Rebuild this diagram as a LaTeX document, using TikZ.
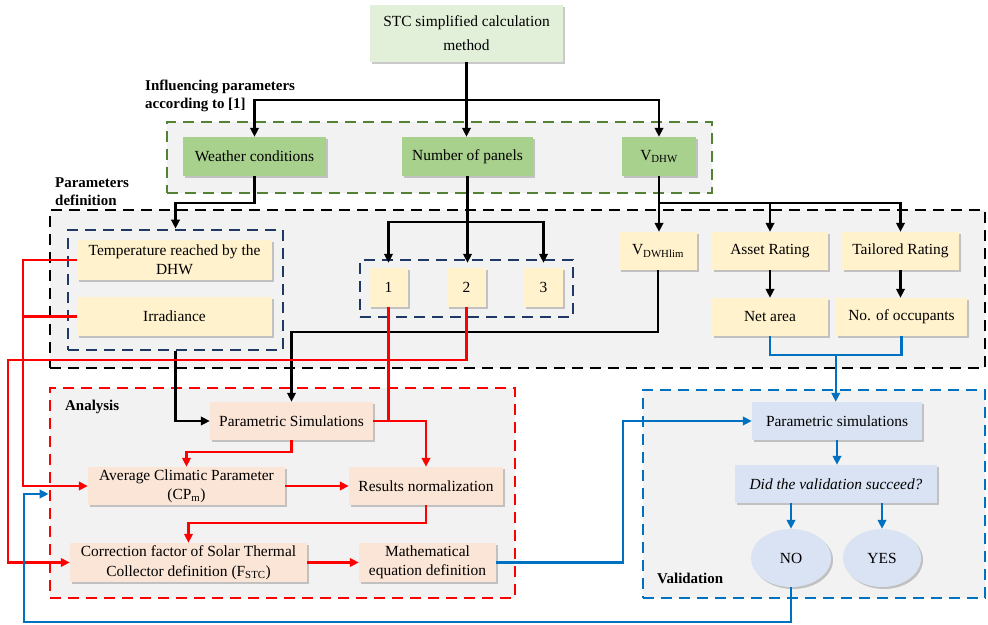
\documentclass[tikz,border=0pt]{standalone}
\usepackage{fontspec}
\setmainfont{Liberation Serif}
\usetikzlibrary{shapes.geometric,shadows,arrows.meta,calc}
\definecolor{topgreen}{HTML}{E2F0D9}
\definecolor{midgreen}{HTML}{A9D18E}
\definecolor{yel}{HTML}{FFF2CC}
\definecolor{peach}{HTML}{FBE5D6}
\definecolor{lblue}{HTML}{DAE3F3}
\definecolor{grpgray}{HTML}{F2F2F2}
\definecolor{dgreen}{HTML}{548235}
\definecolor{navy}{HTML}{1F3864}
\definecolor{cblue}{HTML}{0070C0}
\definecolor{cred}{HTML}{FF0000}
\tikzset{
  box/.style={draw=none, align=center, inner sep=2bp,
    font=\fontsize{15.5}{19.5}\selectfont,
    drop shadow={shadow xshift=2bp, shadow yshift=-2bp, opacity=.35, fill=black!60}},
  gbox/.style={box, fill=midgreen},
  ybox/.style={box, fill=yel},
  pbox/.style={box, fill=peach},
  bbox/.style={box, fill=lblue},
  tbox/.style={box, fill=topgreen},
  grp/.style={rectangle, fill=grpgray, line width=2.8bp, dash pattern=on 11bp off 7bp, inner sep=0},
  glabel/.style={font=\bfseries\fontsize{15}{18}\selectfont, align=left, inner sep=0, anchor=north west},
  conn/.style={line width=2.3bp, -{Triangle[length=9bp,width=8.5bp]}},
  plain/.style={line width=2.3bp},
}
\begin{document}
\begin{tikzpicture}[x=1bp,y=-1bp]
\useasboundingbox (0,0) rectangle (988,625);
% groups
\node[grp, draw=dgreen, minimum width=545bp, minimum height=71bp] (ggreen) at (439.5,157.5) {};
\node[grp, draw=black, minimum width=935bp, minimum height=158bp] (gblack) at (517.5,289) {};
\node[grp, draw=navy, minimum width=215bp, minimum height=120bp] (gnavy1) at (175.5,290) {};
\node[grp, draw=navy, minimum width=213bp, minimum height=57bp] (gnavy2) at (466.5,288.5) {};
\node[grp, draw=cred, minimum width=465bp, minimum height=210bp] (gred) at (282.5,493) {};
\node[grp, draw=cblue, minimum width=342bp, minimum height=208bp] (gblue) at (814,494) {};
% group labels
\node[glabel] (lab1) at (145,80) {Influencing parameters\\according to [1]};
\node[glabel] (lab2) at (55,178) {Parameters\\definition};
\node[glabel] (lab3) at (65,400) {Analysis};
\node[glabel] (lab4) at (657,573) {Validation};
% nodes
\node[tbox, minimum width=193bp, minimum height=57bp, font=\fontsize{15.5}{24}\selectfont] (stc) at (466.5,33.5) {STC simplified calculation\\method};
\node[gbox, minimum width=143bp, minimum height=39bp] (weather) at (254.5,156.5) {Weather conditions};
\node[gbox, minimum width=131bp, minimum height=39bp] (npanels) at (467.5,156.5) {Number of panels};
\node[gbox, minimum width=74bp, minimum height=39bp] (vdhw) at (659,156.5) {V\textsubscript{DHW}};
\node[ybox, minimum width=195bp, minimum height=40bp] (temp) at (174.5,260) {Temperature reached by the\\DHW};
\node[ybox, minimum width=195bp, minimum height=39bp] (irr) at (174.5,316.5) {Irradiance};
\node[ybox, minimum width=39bp, minimum height=39bp] (b1) at (388.5,287.5) {1};
\node[ybox, minimum width=39bp, minimum height=39bp] (b2) at (466.5,287.5) {2};
\node[ybox, minimum width=39bp, minimum height=39bp] (b3) at (543.5,287.5) {3};
\node[ybox, minimum width=78bp, minimum height=38bp] (vlim) at (658,251) {V\textsubscript{DWHlim}};
\node[ybox, minimum width=116bp, minimum height=38bp] (asset) at (770,251) {Asset Rating};
\node[ybox, minimum width=117bp, minimum height=38bp] (tailored) at (900.5,251) {Tailored Rating};
\node[ybox, minimum width=116bp, minimum height=38bp] (net) at (770,317) {Net area};
\node[ybox, minimum width=131bp, minimum height=38bp] (occ) at (901.5,317) {No. of occupants};
\node[pbox, minimum width=163bp, minimum height=38bp] (psim) at (291.5,421) {Parametric Simulations};
\node[pbox, minimum width=197bp, minimum height=38bp] (acp) at (186.5,486) {Average Climatic Parameter\\(CP\textsubscript{m})};
\node[pbox, minimum width=154bp, minimum height=38bp] (rn) at (426,486) {Results normalization};
\node[pbox, minimum width=237bp, minimum height=39bp] (cf) at (188.5,562.5) {Correction factor of Solar Thermal\\Collector definition (F\textsubscript{STC})};
\node[pbox, minimum width=137bp, minimum height=39bp] (math) at (427.5,562.5) {Mathematical\\equation definition};
\node[bbox, minimum width=170bp, minimum height=38bp] (vps) at (837,421) {Parametric simulations};
\node[bbox, minimum width=202bp, minimum height=38bp] (did) at (836,484) {\itshape Did the validation succeed?};
\node[bbox, ellipse, minimum width=80bp, minimum height=58bp] (no) at (791,558) {NO};
\node[bbox, ellipse, minimum width=78bp, minimum height=58bp] (yes) at (882,558) {YES};
% black connectors
\draw[plain] (stc.south) -- (stc.south |- 0,100);
\draw[conn] (stc.south |- 0,100) -| (weather.north);
\draw[conn] (stc.south |- 0,100) -- (stc.south |- npanels.north);
\draw[conn] (stc.south |- 0,100) -| (vdhw.north);
\draw[conn] (weather.south) -- (weather.south |- 0,203) -| (gnavy1.north);
\draw[plain] (npanels.south) -- (npanels.south |- 0,222);
\draw[conn] (npanels.south |- 0,222) -| ($(b1.north)+(0,-5)$);
\draw[conn] (npanels.south |- 0,222) -- ($(npanels.south |- b2.north)+(0,-5)$);
\draw[conn] (npanels.south |- 0,222) -| ($(b3.north)+(0,-5)$);
\draw[conn] (vdhw.south) -- (vdhw.south |- vlim.north);
\draw[conn] (vdhw.south |- 0,203) -| (asset.north);
\draw[conn] (vdhw.south |- 0,203) -| (tailored.north);
\draw[conn] (asset) -- (net);
\draw[conn] (tailored.south) -- (tailored.south |- occ.north);
\draw[conn] (gnavy1.south) |- (psim.west);
\draw[conn] (vlim.south) -- (vlim.south |- 0,332) -| (psim.north);
% red connectors
\begin{scope}[draw=cred, color=cred]
\coordinate (rl) at (23,0);
\coordinate (rl2) at (8,0);
\draw[conn] (temp.west) -- (rl |- temp.west) |- (acp.west);
\draw[plain] (irr.west) -- (rl |- irr.west);
\draw[conn] (b2.south) -- (b2.south |- 0,360) -- (rl2 |- 0,360) |- (cf.west);
\draw[plain] (b1.south) -- (b1.south |- psim.east);
\draw[conn] (psim.east) -| (rn.north);
\draw[conn] (psim.south) -- (psim.south |- 0,452) -| (acp.north);
\draw[conn] (acp) -- (rn);
\draw[conn] (rn.south) -- (rn.south |- 0,523) -| (cf.north);
\draw[conn] (cf) -- (math);
\end{scope}
% blue connectors
\begin{scope}[draw=cblue, color=cblue]
\coordinate (jn) at ($(net.south |- 0,355)!0.5!(occ.south |- 0,355)$);
\draw[plain] (net.south) -- (net.south |- 0,355) -| (occ.south);
\draw[conn] (jn) -- (jn |- vps.north);
\draw[conn] (math.east) -- (623,562.5) |- (vps.west);
\draw[conn] (vps.south) -- (vps.south |- did.north);
\draw[conn] (did.south -| no.north) -- (no.north);
\draw[conn] (did.south -| yes.north) -- (yes.north);
\coordinate (bl) at (24,0);
\draw[conn] (no.south) -- (no.south |- 0,622) -- (bl |- 0,622) -- (bl |- 0,494) -- (gred.west |- 0,494);
\end{scope}
\end{tikzpicture}
\end{document}
